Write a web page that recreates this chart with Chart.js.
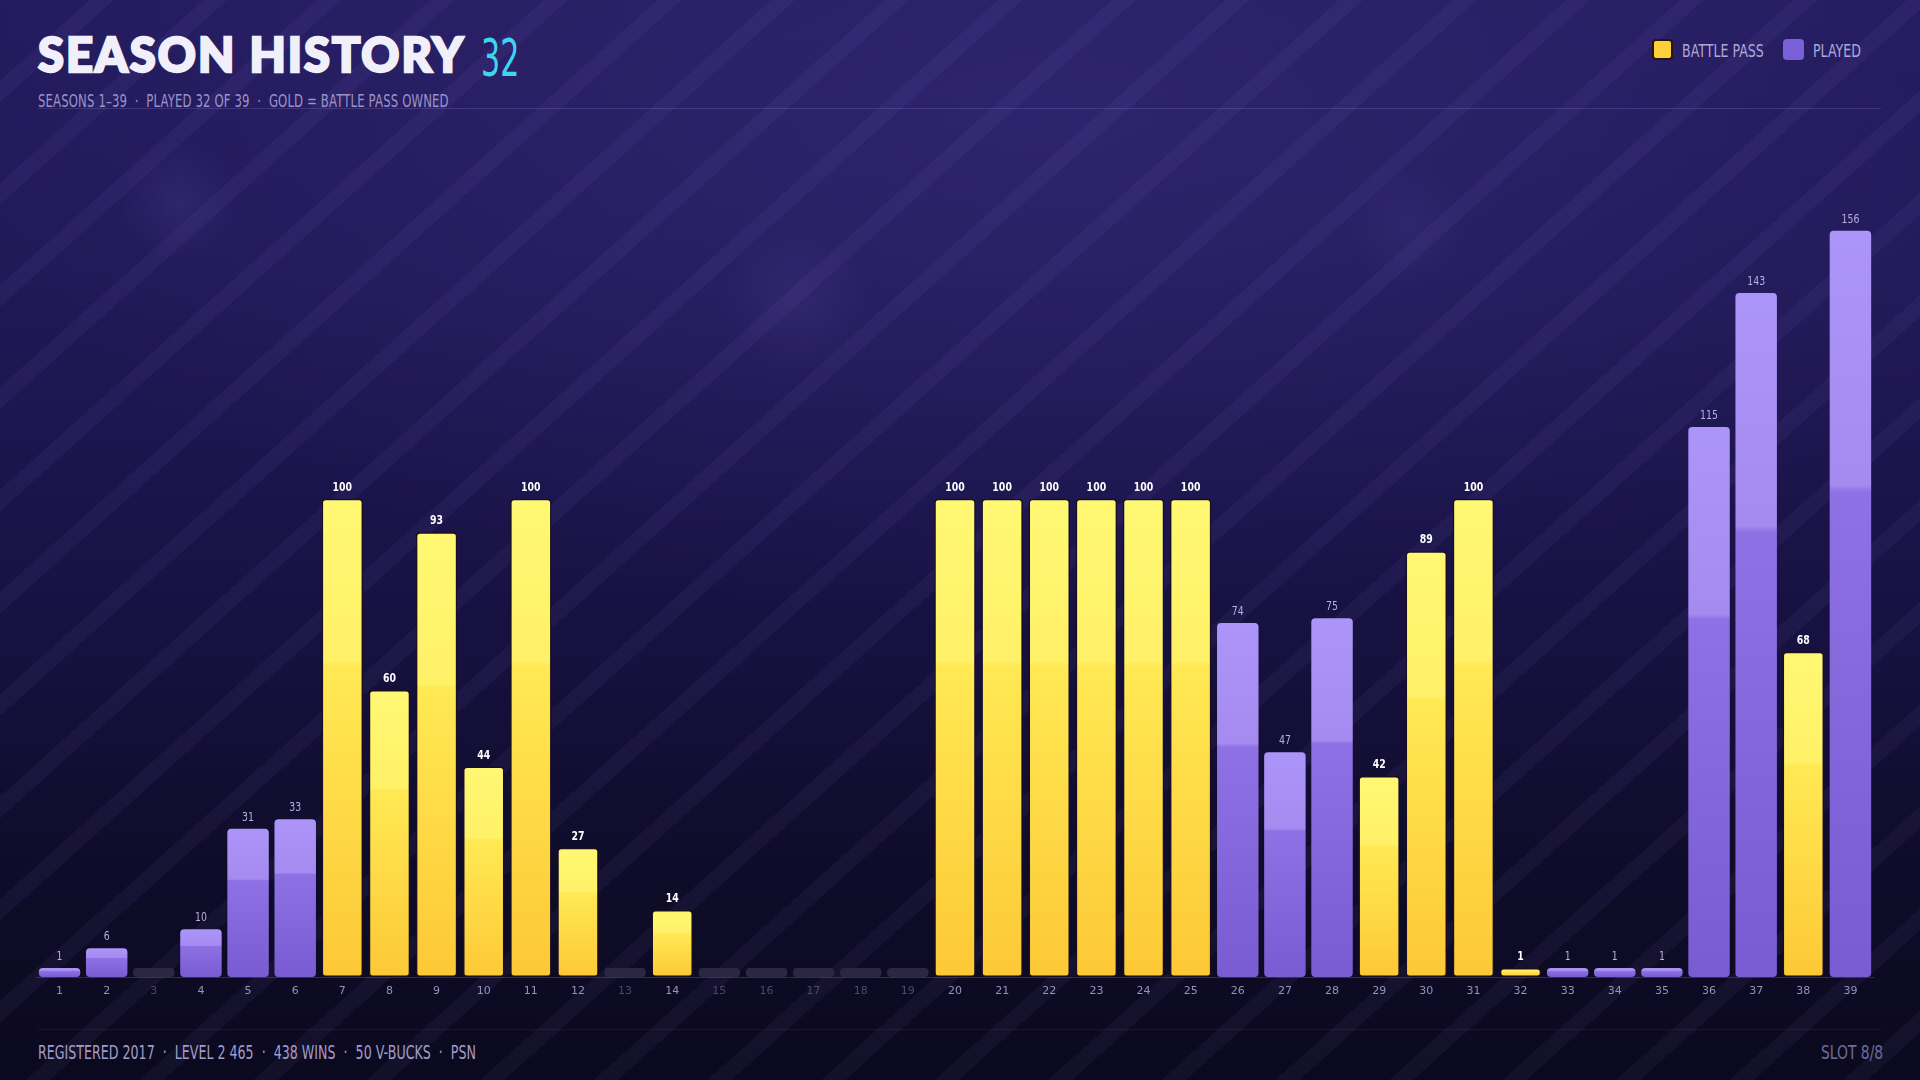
<!DOCTYPE html>
<html>
<head>
<meta charset="utf-8">
<script src="https://cdn.jsdelivr.net/npm/chart.js@4.4.1/dist/chart.umd.min.js"></script>
<style>
  html, body { margin:0; padding:0; }
  body {
    width:1920px; height:1080px; overflow:hidden; position:relative;
    background:
      radial-gradient(circle at 178px 202px, rgba(130,110,210,0.12) 0, rgba(130,110,210,0.0) 60px),
      radial-gradient(circle at 796px 300px, rgba(130,110,210,0.10) 0, rgba(130,110,210,0.0) 75px),
      radial-gradient(circle at 1408px 226px, rgba(130,110,210,0.08) 0, rgba(130,110,210,0.0) 60px),
      repeating-linear-gradient(138deg, rgba(255,255,255,0.0) 0px, rgba(255,255,255,0.0) 60px, rgba(175,155,255,0.05) 60px, rgba(175,155,255,0.05) 76px),
      radial-gradient(ellipse 1100px 500px at 1050px 120px, rgba(60,48,130,0.45) 0, rgba(60,48,130,0) 100%),
      linear-gradient(180deg, #241b5e 0%, #211958 25%, #181244 55%, #0f0c2a 80%, #0b091e 100%);
  }
  .cond { display:inline-block; transform-origin:left center; white-space:nowrap; font-family:"DejaVu Sans", sans-serif; }
  .title { position:absolute; left:38px; top:26px; font-family:"Lato", sans-serif; font-weight:900; font-size:47px; color:#f1effa; letter-spacing:2px; line-height:56px; white-space:nowrap; -webkit-text-stroke:2.4px #f1effa; }
  .num { position:absolute; left:481px; top:30px; font-size:52px; line-height:56px; color:#3fd4ef; transform:scaleX(0.58); font-weight:400; }
  .sub { position:absolute; left:38px; top:90px; font-size:18px; color:#9a94c9; transform:scaleX(0.65); letter-spacing:0.2px; }
  .hline { position:absolute; left:38px; width:1843px; height:1px; }
  .leg { position:absolute; top:40px; font-size:18px; line-height:22px; color:#aea8d8; transform:scaleX(0.70); }
  .sw { position:absolute; top:39px; width:21px; height:21px; border-radius:4px; box-sizing:border-box; }
  .foot { position:absolute; top:1041px; font-size:19px; color:#a29cc9; transform:scaleX(0.665); }
  #wrap { position:absolute; left:36px; top:140px; width:1838px; height:880px; }
</style>
</head>
<body>
<div class="title">SEASON HISTORY</div>
<div class="cond num">32</div>
<div class="cond sub">SEASONS 1–39 &nbsp;·&nbsp; PLAYED 32 OF 39 &nbsp;·&nbsp; GOLD = BATTLE PASS OWNED</div>
<div class="hline" style="top:108px; background:rgba(150,135,230,0.22);"></div>
<div class="sw" style="left:1652px; background:#fdcf3a; border:2px solid #2a140e;"></div>
<div class="cond leg" style="left:1682px;">BATTLE PASS</div>
<div class="sw" style="left:1783px; background:#7a60d9;"></div>
<div class="cond leg" style="left:1813px;">PLAYED</div>
<div id="wrap"><canvas id="c"></canvas></div>
<div class="hline" style="top:1029px; background:rgba(150,135,230,0.10);"></div>
<div class="cond foot" style="left:38px;">REGISTERED 2017 &nbsp;·&nbsp; LEVEL 2 465 &nbsp;·&nbsp; 438 WINS &nbsp;·&nbsp; 50 V-BUCKS &nbsp;·&nbsp; PSN</div>
<div class="cond foot" style="left:1821px; color:#706a98; transform:scaleX(0.73);">SLOT 8/8</div>
<script>
// ---- data ----
const seasons = ["1","2","3","4","5","6","7","8","9","10","11","12","13","14","15","16","17","18","19","20",
                 "21","22","23","24","25","26","27","28","29","30","31","32","33","34","35","36","37","38","39"];
// season level reached (null = not played)
const levels = [1, 6, null, 10, 31, 33, 100, 60, 93, 44, 100, 27, null, 14, null, null, null, null, null, 100,
                100, 100, 100, 100, 100, 74, 47, 75, 42, 89, 100, 1, 1, 1, 1, 115, 143, 68, 156];
// battle pass owned
const battlePass = [false, false, false, false, false, false, true, true, true, true, true, true, false, true, false, false, false, false, false, true,
                    true, true, true, true, true, false, false, false, true, true, true, true, false, false, false, false, false, true, false];

const MINLEN = 9;
const FONT = '"DejaVu Sans", sans-serif';

function barFill(ctx) {
  const chart = ctx.chart;
  const i = ctx.dataIndex;
  if (levels[i] == null) return '#2b2743';
  const area = chart.chartArea;
  if (!area) return battlePass[i] ? '#fdd03c' : '#8a6fe2';
  const y = chart.scales.y;
  const base = y.getPixelForValue(0);
  let top = y.getPixelForValue(levels[i]);
  if (base - top < MINLEN) top = base - MINLEN;
  const g = chart.ctx.createLinearGradient(0, top, 0, base);
  if (battlePass[i]) {
    g.addColorStop(0, '#fff873');
    g.addColorStop(0.34, '#fff168');
    g.addColorStop(0.35, '#ffe954');
    g.addColorStop(1, '#fdc836');
  } else {
    g.addColorStop(0, '#ad94f8');
    g.addColorStop(0.34, '#a58bf0');
    g.addColorStop(0.35, '#8e71e4');
    g.addColorStop(1, '#795bd2');
  }
  return g;
}

// draws value labels above each played bar (condensed by horizontal scaling)
const valueLabels = {
  id: 'valueLabels',
  afterDatasetsDraw(chart) {
    const c = chart.ctx;
    const meta = chart.getDatasetMeta(0);
    meta.data.forEach((bar, i) => {
      if (levels[i] == null) return;
      const gold = battlePass[i];
      c.save();
      c.translate(bar.x, bar.y - 8);
      c.scale(0.72, 1);
      c.textAlign = 'center';
      c.textBaseline = 'alphabetic';
      c.font = (gold ? '600 ' : '400 ') + '13px ' + FONT;
      c.fillStyle = gold ? '#ffffff' : '#b8b0e2';
      c.fillText(String(levels[i]), 0, 0);
      c.restore();
    });
  }
};

const baseLine = {
  id: 'baseLine',
  beforeDatasetsDraw(chart) {
    const c = chart.ctx, a = chart.chartArea;
    c.save();
    c.strokeStyle = 'rgba(120,105,190,0.35)';
    c.lineWidth = 1;
    c.beginPath();
    c.moveTo(a.left, a.bottom + 0.5);
    c.lineTo(a.right, a.bottom + 0.5);
    c.stroke();
    c.restore();
  }
};

new Chart(document.getElementById('c'), {
  type: 'bar',
  data: {
    labels: seasons,
    datasets: [{
      data: levels.map(v => v == null ? 0 : v),
      backgroundColor: barFill,
      borderColor: (ctx) => battlePass[ctx.dataIndex] ? '#1a0f22' : 'rgba(0,0,0,0)',
      borderWidth: (ctx) => battlePass[ctx.dataIndex] ? 1.5 : 0,
      borderRadius: 4,
      borderSkipped: false,
      minBarLength: MINLEN,
      barPercentage: 0.88,
      categoryPercentage: 1.0
    }]
  },
  options: {
    responsive: true,
    maintainAspectRatio: false,
    animation: false,
    devicePixelRatio: 1,
    layout: { padding: 0 },
    plugins: { legend: { display: false }, tooltip: { enabled: false } },
    scales: {
      x: {
        grid: { display: false, drawTicks: false },
        border: { display: false },
        ticks: {
          padding: 8,
          maxRotation: 0,
          autoSkip: false,
          font: { family: FONT, size: 11 },
          color: (ctx) => levels[ctx.index] == null ? '#4d4868' : '#9690c0'
        },
        afterFit(scale) { scale.height = 43; }
      },
      y: {
        display: false,
        min: 0,
        max: 175
      }
    }
  },
  plugins: [baseLine, valueLabels]
});
</script>
</body>
</html>
